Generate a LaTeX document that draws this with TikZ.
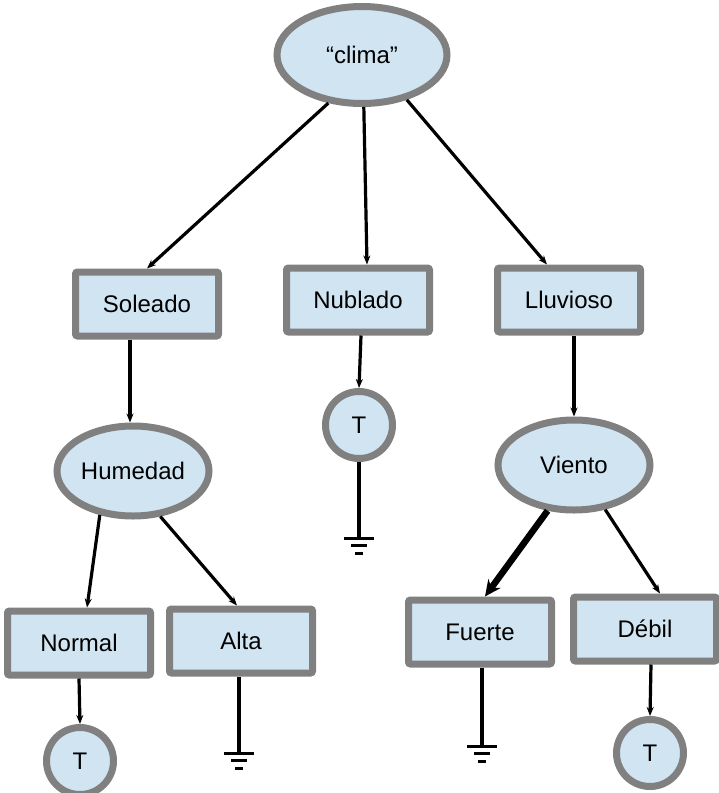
\documentclass[tikz,border=0pt]{standalone}
\usepackage{fontspec}
\setmainfont{Liberation Sans}
\usetikzlibrary{shapes.geometric,arrows.meta}
\definecolor{relleno}{RGB}{208,228,242}
\definecolor{borde}{RGB}{128,128,128}
\tikzset{
  tierra/.pic={
    \draw[line width=3pt] (-15,0) -- (15,0);
    \draw[line width=3pt] (-8,7.5) -- (8,7.5);
    \draw[line width=3pt] (-4,15) -- (4,15);
  }
}
\begin{document}
\begin{tikzpicture}[x=1pt,y=-1pt,font=\fontsize{24}{28}\selectfont,
    caja/.style={rectangle, draw=borde, fill=relleno, line width=7pt, rounded corners=2pt,
      minimum width=143pt, minimum height=64pt, inner sep=0pt, outer sep=3.5pt},
    elipse/.style={ellipse, draw=borde, fill=relleno, line width=7pt,
      minimum width=152pt, minimum height=90pt, inner sep=0pt, outer sep=3.5pt},
    hoja/.style={circle, draw=borde, fill=relleno, line width=7pt,
      minimum size=67pt, inner sep=0pt, outer sep=3.5pt},
    flecha/.style={-{Stealth[length=9pt,width=7pt]}, line width=3.2pt},
    linea/.style={line width=3.2pt}]
    \useasboundingbox (0,0) rectangle (719,793);
    % Raiz
    \node[elipse, minimum width=170pt, minimum height=97pt] (clima) at (362,55) {“clima”};
    % Primer nivel
    \node[caja] (soleado) at (147,304) {Soleado};
    \node[caja] (nublado) at (358,300) {Nublado};
    \node[caja] (lluvioso) at (569,300) {Lluvioso};
    % Segundo nivel
    \node[elipse] (humedad) at (133,471) {Humedad};
    \node[hoja] (tNublado) at (359,425) {T};
    \node[elipse] (viento) at (574,465) {Viento};
    % Tercer nivel
    \node[caja] (normal) at (79,643) {Normal};
    \node[caja] (alta) at (241,641) {Alta};
    \node[caja] (fuerte) at (480,632) {Fuerte};
    \node[caja] (debil) at (645,629) {Débil};
    % Hojas
    \node[hoja] (tNormal) at (80,761) {T};
    \node[hoja] (tDebil) at (650,753) {T};
    \coordinate (gNublado) at (359,538);
    \coordinate (gAlta) at (239,753);
    \coordinate (gFuerte) at (482,746);
    % Ramas de clima
    \draw[flecha] (clima.235) -- (soleado.north);
    \draw[flecha] (clima.272) -- ([xshift=9pt]nublado.north);
    \draw[flecha] (clima.315) -- ([xshift=-22pt]lluvioso.north);
    % Ramas de Soleado y Humedad
    \draw[flecha] ([xshift=-17pt]soleado.south) -- ([xshift=-3pt]humedad.north);
    \draw[flecha] (humedad.233) -- ([xshift=8pt]normal.north);
    \draw[flecha] (humedad.301) -- ([xshift=-4pt]alta.north);
    \draw[flecha] (normal.south) -- (tNormal.north);
    \draw[linea] ([xshift=-2pt]alta.south) -- (gAlta);
    \pic at (gAlta) {tierra};
    % Rama de Nublado
    \draw[flecha] ([xshift=3pt]nublado.south) -- (tNublado.north);
    \draw[linea] (tNublado.south) -- (gNublado);
    \pic at (gNublado) {tierra};
    % Ramas de Lluvioso y Viento
    \draw[flecha] ([xshift=5pt]lluvioso.south) -- (viento.north);
    \draw[-{Stealth[length=16pt,width=15pt]}, line width=6.5pt] (viento.240) -- ([xshift=5pt]fuerte.north);
    \draw[flecha] (viento.305) -- ([xshift=15pt]debil.north);
    \draw[linea] ([xshift=2pt]fuerte.south) -- (gFuerte);
    \pic at (gFuerte) {tierra};
    \draw[flecha] ([xshift=6pt]debil.south) -- (tDebil.north);
\end{tikzpicture}
\end{document}
